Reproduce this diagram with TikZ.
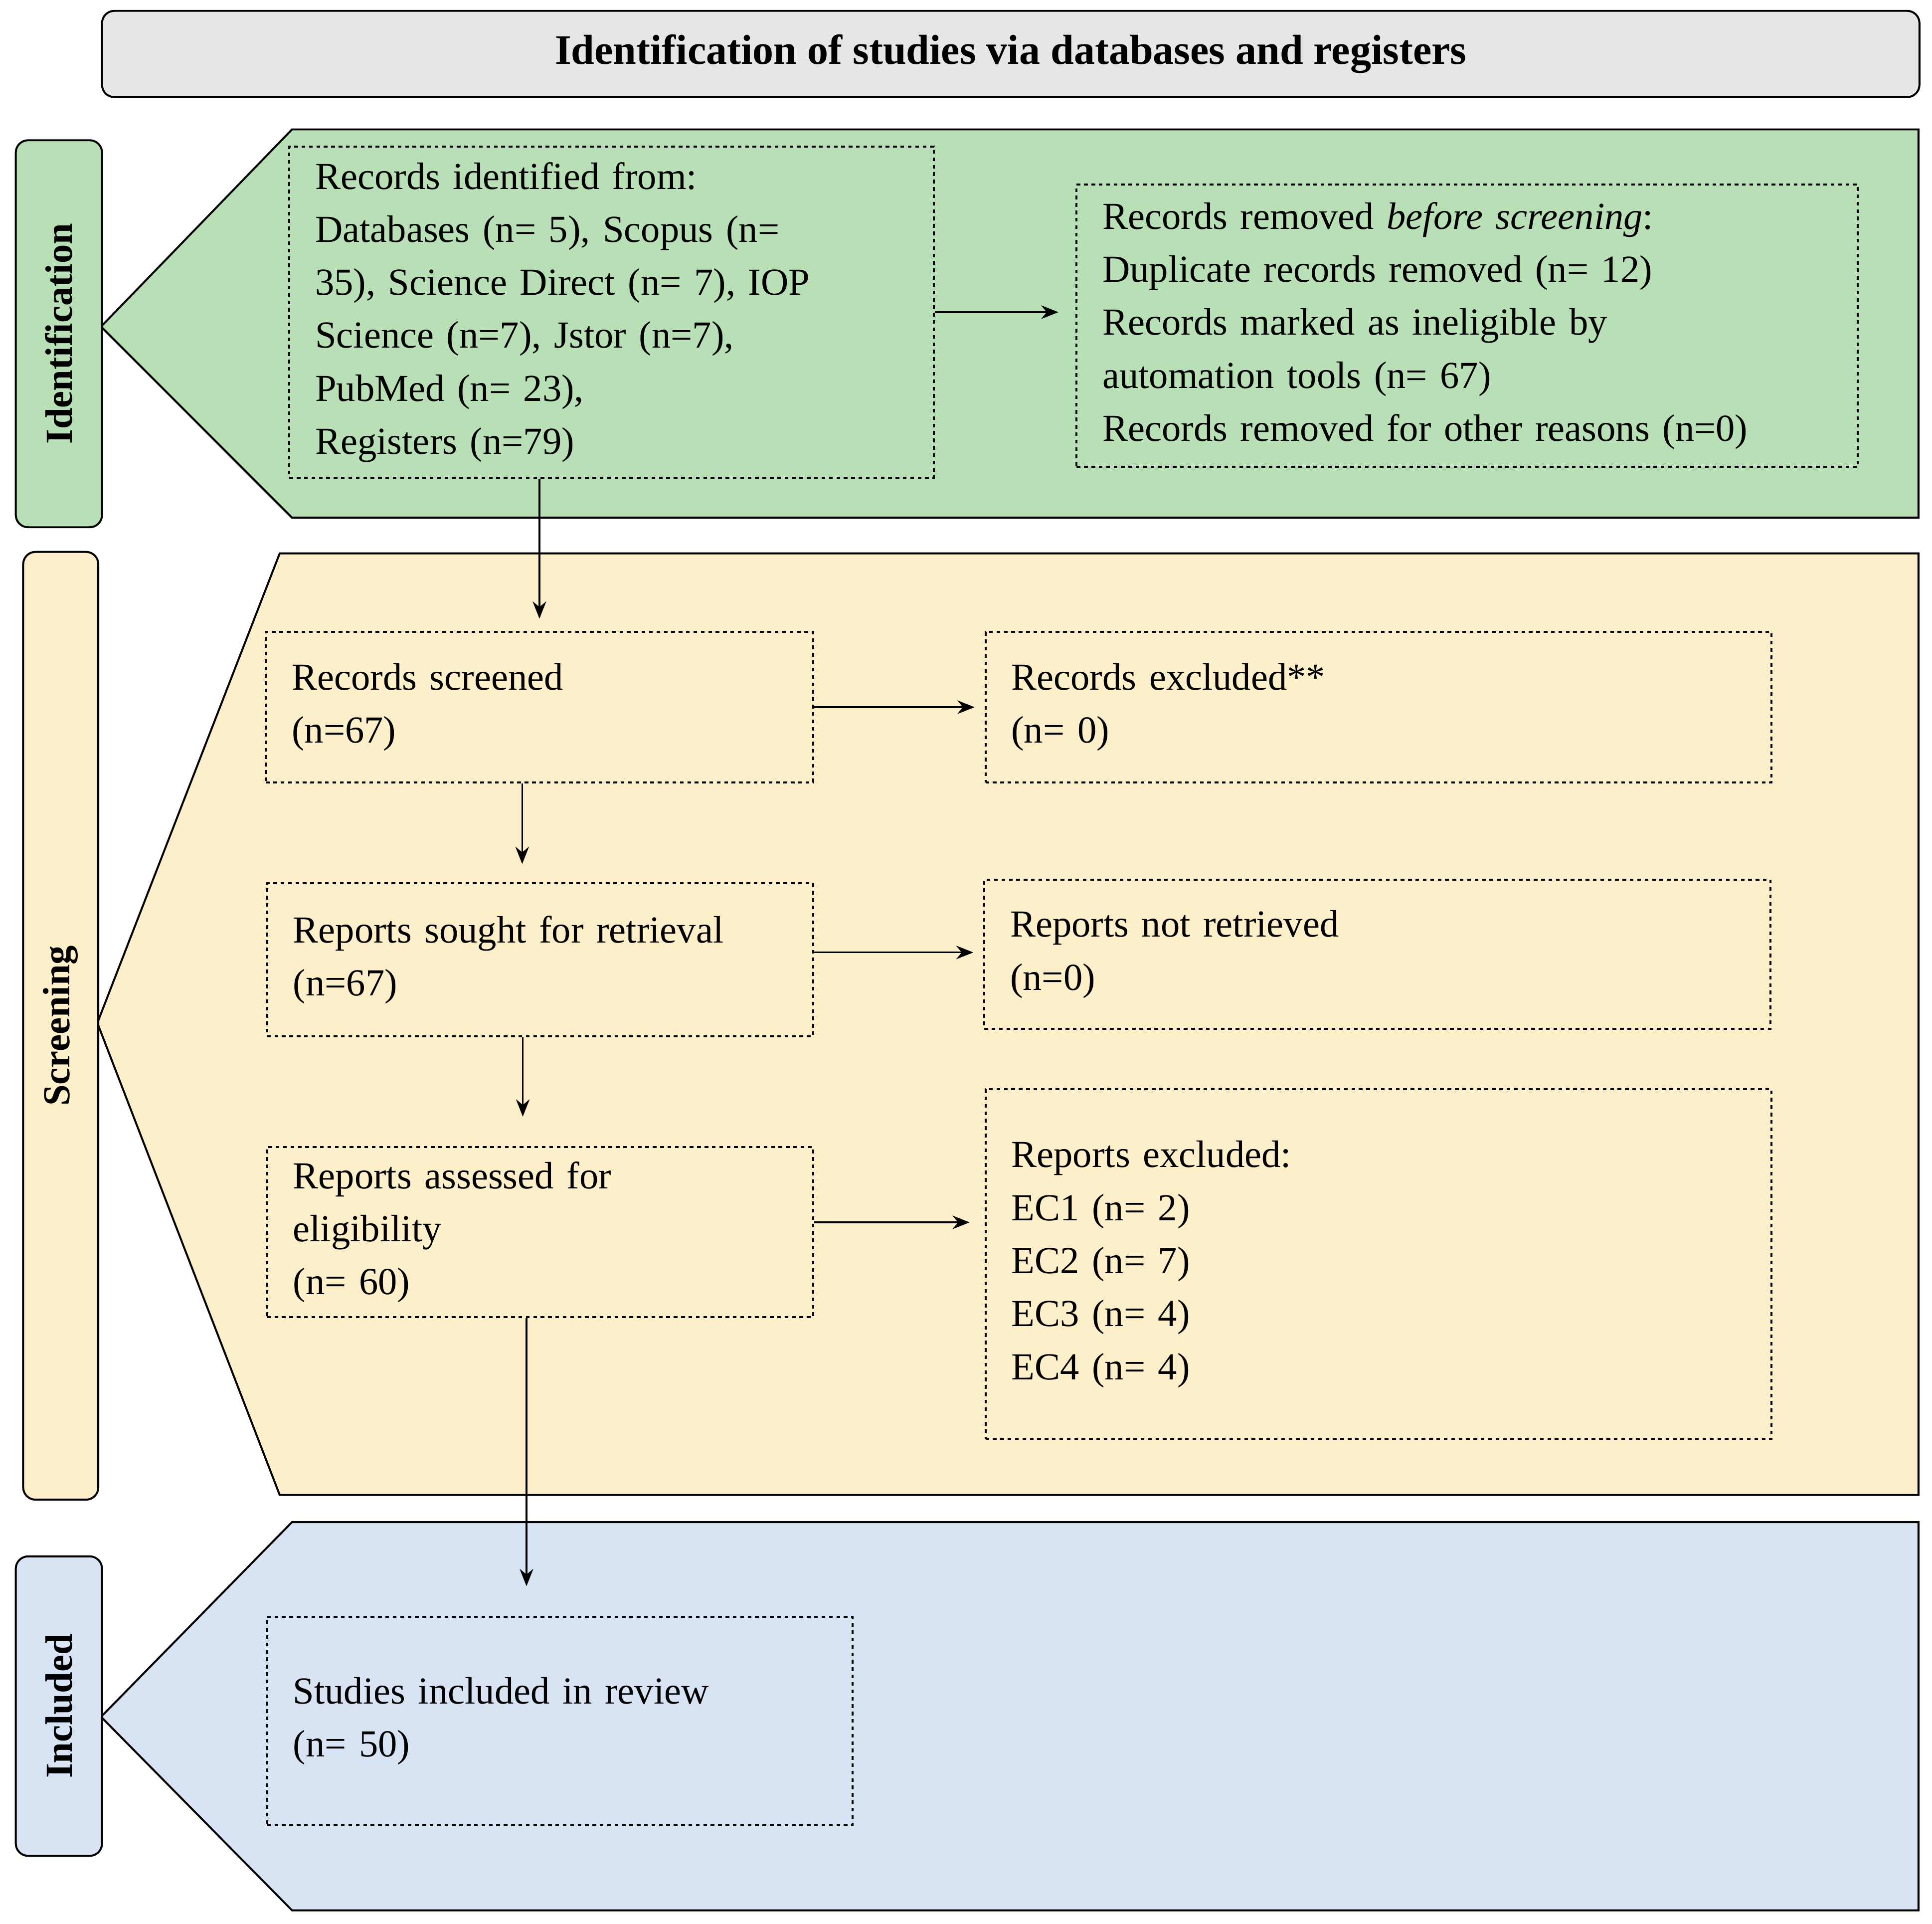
\documentclass[tikz,border=0pt]{standalone}
\usepackage{fontspec}
\setmainfont{Liberation Serif}
\usetikzlibrary{arrows.meta}
\definecolor{gfill}{HTML}{B9DFB6}
\definecolor{yfill}{HTML}{FDEFC9}
\definecolor{bfill}{HTML}{D8E4F3}
\definecolor{tfill}{HTML}{E6E6E6}
\begin{document}
\begin{tikzpicture}[x=1pt,y=-1pt,
  box/.style={draw,dashed,line width=1.6pt,anchor=north west,align=left,inner xsep=21pt,inner ysep=0pt,font=\fontsize{31}{43}\selectfont},
  side/.style={draw,line width=1.6pt,rounded corners=10pt,anchor=north west,inner sep=0pt},
  stage/.style={draw,line width=1.6pt},
  lab/.style={rotate=90,font=\fontsize{31}{36}\selectfont\bfseries},
  arr/.style={-{Stealth[length=14pt,width=11pt]},line width=1.3pt}]
\useasboundingbox (0,0) rectangle (1568,1561);
% title
\node[side,fill=tfill,minimum width=1475pt,minimum height=70pt] (title) at (82,8) {};
\node[font=\fontsize{34}{40}\selectfont\bfseries] (tt) at (title.center) {Identification of studies via databases and registers};
% stages
\draw[stage,fill=gfill] (82,265) -- (237,105) -- (1557,105) -- (1557,420) -- (237,420) -- cycle;
\draw[stage,fill=yfill] (79,830) -- (227,449) -- (1557,449) -- (1557,1213) -- (227,1213) -- cycle;
\draw[stage,fill=bfill] (82,1393) -- (237,1235) -- (1557,1235) -- (1557,1550) -- (237,1550) -- cycle;
\node[side,fill=gfill,minimum width=70pt,minimum height=314pt] (s1) at (12,113) {};
\node[lab] (l1) at (s1.center) {Identification};
\node[side,fill=yfill,minimum width=61pt,minimum height=769pt] (s2) at (18,447) {};
\node[lab] (l2) at (s2.center) {Screening};
\node[side,fill=bfill,minimum width=70pt,minimum height=243pt] (s3) at (12,1262) {};
\node[lab] (l3) at (s3.center) {Included};
% boxes
\node[box,text width=481pt,minimum height=269pt] (A) at (234,118) {Records identified from:\\Databases (n= 5), Scopus (n=\\35), Science Direct (n= 7), IOP\\Science (n=7), Jstor (n=7),\\PubMed (n= 23),\\Registers (n=79)};
\node[box,text width=592pt,minimum height=229pt] (B) at (873,149) {Records removed \textit{before screening}:\\Duplicate records removed (n= 12)\\Records marked as ineligible by\\automation tools (n= 67)\\Records removed for other reasons (n=0)};
\node[box,text width=402pt,minimum height=122pt] (C) at (215,512) {Records screened\\(n=67)};
\node[box,text width=596pt,minimum height=122pt] (D) at (799,512) {Records excluded**\\(n= 0)};
\node[box,text width=401pt,minimum height=124pt] (E) at (216,716) {Reports sought for retrieval\\(n=67)};
\node[box,text width=596pt,minimum height=121pt] (F) at (798,713) {Reports not retrieved\\(n=0)};
\node[box,text width=401pt,minimum height=138pt] (G) at (216,930) {Reports assessed for\\eligibility\\(n= 60)};
\node[box,text width=596pt,minimum height=284pt] (H) at (799,883) {Reports excluded:\\EC1 (n= 2)\\EC2 (n= 7)\\EC3 (n= 4)\\EC4 (n= 4)};
\node[box,text width=433pt,minimum height=169pt] (I) at (216,1311) {Studies included in review\\(n= 50)};
% arrows
\draw[arr,shorten >=10pt] (A.south -| C.north) -- (C.north);
\draw[arr,shorten >=14pt] (A.east) -- (A.east -| B.west);
\draw[arr,shorten >=8pt] (C.east) -- (C.east -| D.west);
\draw[arr,shorten >=15pt] (C.south) ++(-14,0) coordinate (c1) -- (c1 |- E.north);
\draw[arr,shorten >=8pt] (E.east) ++(0,-6) coordinate (e1) -- (e1 -| F.west);
\draw[arr,shorten >=24pt] (E.south) ++(-14,0) coordinate (e2) -- (e2 |- G.north);
\draw[arr,shorten >=12pt] (G.east) ++(0,-8) coordinate (g1) -- (g1 -| H.west);
\draw[arr,shorten >=24pt] (G.south) ++(-11,0) coordinate (g2) -- (g2 |- I.north);
\end{tikzpicture}
\end{document}
